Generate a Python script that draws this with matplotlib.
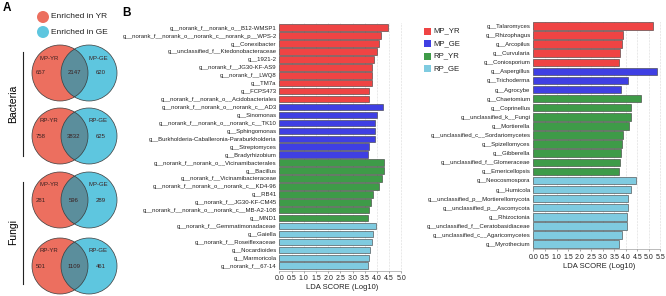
import matplotlib
matplotlib.use("Agg")
import matplotlib.pyplot as plt
from matplotlib.patches import Circle, Rectangle
import numpy as np

plt.rcParams['font.family'] = ['Liberation Sans', 'DejaVu Sans']

# ---- panel A: venn counts ----
venn_tags = ['MP', 'RP', 'MP', 'RP']
venn_yr = [657, 758, 281, 501]
venn_both = [2147, 3832, 596, 1109]
venn_ge = [620, 625, 289, 461]

# ---- panel B: LEfSe bars ----
bac_names = ['g__norank_f__norank_o__B12-WMSP1', 'g__norank_f__norank_o__norank_c__norank_p__WPS-2',
             'g__Conexibacter', 'g__unclassified_f__Ktedonobacteraceae', 'g__1921-2',
             'g__norank_f__JG30-KF-AS9', 'g__norank_f__LWQ8', 'g__TM7a', 'g__FCPS473',
             'g__norank_f__norank_o__Acidobacteriales',
             'g__norank_f__norank_o__norank_c__AD3', 'g__Sinomonas', 'g__norank_f__norank_o__norank_c__TK10',
             'g__Sphingomonas', 'g__Burkholderia-Caballeronia-Paraburkholderia', 'g__Streptomyces',
             'g__Bradyrhizobium',
             'g__norank_f__norank_o__Vicinamibacterales', 'g__Bacillus', 'g__norank_f__Vicinamibacteraceae',
             'g__norank_f__norank_o__norank_c__KD4-96', 'g__RB41', 'g__norank_f__JG30-KF-CM45',
             'g__norank_f__norank_o__norank_c__MB-A2-108', 'g__MND1',
             'g__norank_f__Gemmatimonadaceae', 'g__Gaiella', 'g__norank_f__Roseiflexaceae',
             'g__Nocardioides', 'g__Marmoricola', 'g__norank_f__67-14']
bac_lda = [4.45, 4.15, 4.10, 4.02, 3.88, 3.78, 3.78, 3.78, 3.69, 3.69,
           4.23, 4.02, 3.92, 3.91, 3.91, 3.69, 3.62,
           4.30, 4.30, 4.19, 4.10, 3.85, 3.74, 3.69, 3.65,
           3.98, 3.85, 3.81, 3.72, 3.69, 3.65]
bac_group = ['MP_YR'] * 10 + ['MP_GE'] * 7 + ['RP_YR'] * 8 + ['RP_GE'] * 6

fun_names = ['g__Talaromyces', 'g__Rhizophagus', 'g__Arcopilus', 'g__Curvularia', 'g__Coniosporium',
             'g__Aspergillus', 'g__Trichoderma', 'g__Agrocybe',
             'g__Chaetomium', 'g__Coprinellus', 'g__unclassified_k__Fungi', 'g__Mortierella',
             'g__unclassified_c__Sordariomycetes', 'g__Spizellomyces', 'g__Gibberella',
             'g__unclassified_f__Glomeraceae', 'g__Emericellopsis',
             'g__Neocosmospora', 'g__Humicola', 'g__unclassified_p__Mortierellomycota',
             'g__unclassified_p__Ascomycota', 'g__Rhizoctonia', 'g__unclassified_f__Ceratobasidiaceae',
             'g__unclassified_c__Agaricomycetes', 'g__Myrothecium']
fun_lda = [5.19, 3.86, 3.82, 3.76, 3.71,
           5.34, 4.11, 3.79,
           4.66, 4.24, 4.24, 4.12, 3.89, 3.82, 3.78, 3.75, 3.72,
           4.43, 4.23, 4.11, 4.08, 4.05, 4.04, 3.84, 3.72]
fun_group = ['MP_YR'] * 5 + ['MP_GE'] * 3 + ['RP_YR'] * 9 + ['RP_GE'] * 8

group_order = ['MP_YR', 'MP_GE', 'RP_YR', 'RP_GE']
palette = {'MP_YR': '#EF4444', 'MP_GE': '#3F3FE3', 'RP_YR': '#3E9B48', 'RP_GE': '#7FCBE0'}
c_yr, c_ge, c_both = '#EC6F5F', '#5EC6DF', '#5B8E9C'

fig = plt.figure(figsize=(6.66, 2.96), dpi=100)

# canvas in pixel coordinates for panel A and letters
cv = fig.add_axes([0, 0, 1, 1])
cv.set_xlim(0, 666)
cv.set_ylim(296, 0)
cv.axis('off')

cv.text(3, 8, 'A', fontsize=8.5, fontweight='bold', va='center')
cv.text(122, 13, 'B', fontsize=8.5, fontweight='bold', va='center')

cv.add_patch(Circle((43, 17), 6, fc=c_yr, ec='none'))
cv.add_patch(Circle((43, 32), 6, fc=c_ge, ec='none'))
cv.text(51, 17, 'Enriched in YR', fontsize=6, va='center', color='#222222')
cv.text(51, 32, 'Enriched in GE', fontsize=6, va='center', color='#222222')


def venn(cy, tag, n_yr, n_both, n_ge):
    r = 28
    red = Circle((60, cy), r, fc=c_yr, ec='none')
    blue = Circle((89, cy), r, fc=c_ge, ec='none')
    cv.add_patch(red)
    cv.add_patch(blue)
    mid = Circle((89, cy), r, fc=c_both, ec='none')
    cv.add_patch(mid)
    mid.set_clip_path(red)
    for cx in (60, 89):
        cv.add_patch(Circle((cx, cy), r, fill=False, ec='#3a3a3a', lw=0.5))
    kw = dict(fontsize=4.3, ha='center', va='center', color='#3a2020')
    cv.text(49, cy - 15, tag + '-YR', **kw)
    cv.text(98, cy - 15, tag + '-GE', **kw)
    cv.text(41, cy, str(n_yr), **kw)
    cv.text(74, cy, str(n_both), **kw)
    cv.text(101, cy, str(n_ge), **kw)


for cy, tag, a, b, c in zip([73, 136, 200, 266], venn_tags, venn_yr, venn_both, venn_ge):
    venn(cy, tag, a, b, c)

cv.plot([22.5, 22.5], [52, 156], color='#222222', lw=0.8)
cv.plot([22.5, 22.5], [182, 284], color='#222222', lw=0.8)
cv.text(13, 104, 'Bacteria', rotation=90, fontsize=7.5, ha='center', va='center')
cv.text(13, 232, 'Fungi', rotation=90, fontsize=7.5, ha='center', va='center')


def lda_panel(rect, names, vals, groups, xmax, ticks):
    ax = fig.add_axes(rect)
    y = np.arange(len(names))
    ax.barh(y, vals, height=0.82, color=[palette[g] for g in groups],
            edgecolor='#3a3a3a', linewidth=0.4, zorder=2)
    ax.set_ylim(len(names) - 0.4, -0.6)
    ax.set_xlim(0, xmax)
    ax.set_yticks(y)
    ax.set_yticklabels(names, fontsize=4.3, color='#222222')
    ax.set_xticks(ticks)
    ax.set_xticklabels(['%.1f' % t for t in ticks], fontsize=5, color='#222222')
    ax.tick_params(axis='y', length=0, pad=2)
    ax.tick_params(axis='x', length=1.5, width=0.4, pad=1.5, color='#666666')
    for s in ('top', 'right', 'left'):
        ax.spines[s].set_visible(False)
    ax.spines['bottom'].set_linewidth(0.4)
    ax.spines['bottom'].set_color('#888888')
    ax.spines['bottom'].set_bounds(0, ticks[-1])
    ax.xaxis.grid(True, linestyle=':', linewidth=0.4, color='#bbbbbb', zorder=0)
    ax.set_axisbelow(True)
    ax.set_xlabel('LDA SCORE (Log10)', fontsize=5.5, labelpad=2, color='#222222')
    return ax


lda_panel([0.4194, 0.0861, 0.1887, 0.8365], bac_names, bac_lda, bac_group,
          5.15, np.arange(0, 5.01, 0.5))
lda_panel([0.8009, 0.1571, 0.1960, 0.7736], fun_names, fun_lda, fun_group,
          5.65, np.arange(0, 5.51, 0.5))

# group legend for panel B
for i, g in enumerate(group_order):
    yy = 31 + 12.5 * i
    cv.add_patch(Rectangle((424, yy - 3.5), 7, 7, fc=palette[g], ec='none'))
    cv.text(433, yy, g, fontsize=5.6, va='center', color='#222222')

fig.savefig('out.png', dpi=100)
